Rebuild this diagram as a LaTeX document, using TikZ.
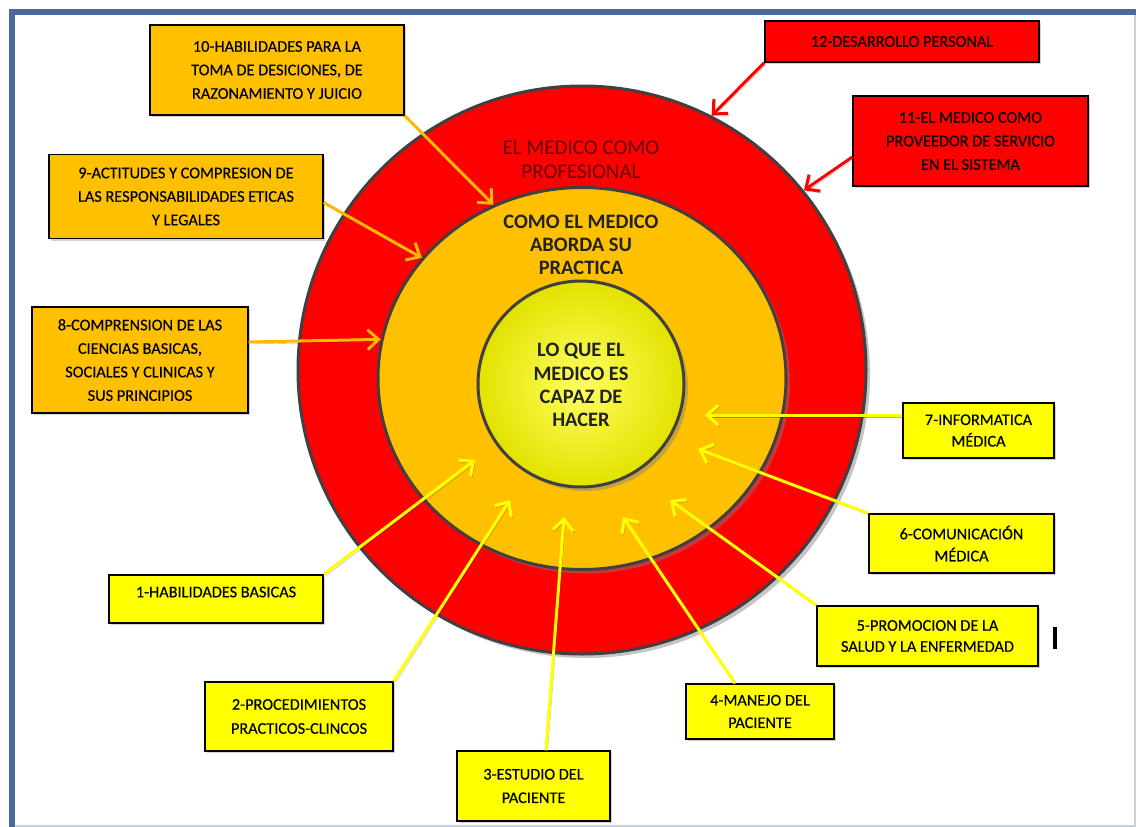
\documentclass[tikz,border=0pt]{standalone}
\usepackage{fontspec}
\setmainfont{Carlito}
\newfontfamily\boxfont[FakeBold=0.35]{Carlito}
\usetikzlibrary{arrows.meta,shadows,shapes.geometric}
\definecolor{cred}{HTML}{FF0000}
\definecolor{corange}{HTML}{FFC000}
\definecolor{cyellow}{HTML}{FFFF00}
\definecolor{cyin}{HTML}{FFFF60}
\definecolor{cyout}{HTML}{E2E200}
\definecolor{cline}{HTML}{404040}
\definecolor{ctxtred}{HTML}{640000}
\definecolor{ctxt}{HTML}{222222}
\definecolor{cframe}{HTML}{4A6A9A}
\definecolor{cframelight}{HTML}{C5CFDD}
\definecolor{carrO}{HTML}{FFB800}
\tikzset{
  lbl/.style={draw=black, line width=1.3pt, font=\boxfont\fontsize{16.3}{23.5}\selectfont,
    align=center, inner sep=0pt, text=black,
    drop shadow={opacity=0.35, shadow xshift=2pt, shadow yshift=-2pt}},
  boxo/.style={lbl, fill=corange},
  boxr/.style={lbl, fill=cred},
  boxy/.style={lbl, fill=cyellow},
  ring/.style={inner sep=0pt, draw=cline, line width=3pt,
    drop shadow={opacity=0.45, shadow xshift=4pt, shadow yshift=-4pt}},
  arrbase/.style={line width=3pt,
    -{Straight Barb[length=11pt,width=20pt,line width=3pt]},
    preaction={draw=black, draw opacity=0.3, transform canvas={shift={(1.5pt,-2pt)}}}},
  arrO/.style={arrbase, draw=carrO},
  arrR/.style={arrbase, draw=cred},
  arrY/.style={arrbase, draw=cyellow},
}
\begin{document}
\begin{tikzpicture}[x=1pt,y=-1pt]
\useasboundingbox (0,0) rectangle (1136,827);
\fill[white] (0,0) rectangle (1136,827);
% frame
\draw[cframelight, line width=2pt] (12,825.5) -- (1134.5,825.5) -- (1134.5,12);
\draw[cframe, line width=6pt] (11.5,827) -- (11.5,11.5) -- (1136,11.5);

% circles
\node[ring, circle, fill=cred, minimum size=568pt] (prof) at (582,370) {};
\node[ring, ellipse, fill=corange, minimum width=408pt, minimum height=382pt] (prac) at (582,378.5) {};
\node[ring, circle, shading=radial, inner color=cyin, outer color=cyout, minimum size=206pt] (core) at (581,384) {};

% circle texts
\node[font=\fontsize{21}{24}\selectfont, text=ctxtred, align=center] (proftxt) at (581,160) {EL MEDICO COMO\\PROFESIONAL};
\node[font=\bfseries\fontsize{20.5}{23.3}\selectfont, text=ctxt, align=center] (practxt) at (581,245) {COMO EL MEDICO\\ABORDA SU\\PRACTICA};
\node[font=\bfseries\fontsize{20.5}{23.3}\selectfont, text=ctxt, align=center] (coretxt) at (581,385) {LO QUE EL\\MEDICO ES\\CAPAZ DE\\HACER};

% boxes
\node[boxo, minimum width=254pt, minimum height=90pt] (b10) at (277,70) {10-HABILIDADES PARA LA\\TOMA DE DESICIONES, DE\\RAZONAMIENTO Y JUICIO};
\node[boxo, minimum width=274pt, minimum height=84pt] (b9) at (186,196.5) {9-ACTITUDES Y COMPRESION DE\\LAS RESPONSABILIDADES ETICAS\\Y LEGALES};
\node[boxo, minimum width=216pt, minimum height=106pt] (b8) at (140,360) {8-COMPRENSION DE LAS\\CIENCIAS BASICAS,\\SOCIALES Y CLINICAS Y\\SUS PRINCIPIOS};
\node[boxr, minimum width=274pt, minimum height=41pt] (b12) at (902,41.5) {12-DESARROLLO PERSONAL};
\node[boxr, minimum width=235pt, minimum height=90pt] (b11) at (970.5,141) {11-EL MEDICO COMO\\PROVEEDOR DE SERVICIO\\EN EL SISTEMA};
\node[boxy, minimum width=151pt, minimum height=55pt, font=\boxfont\fontsize{16.3}{21.5}\selectfont] (b7) at (978.5,430.5) {7-INFORMATICA\\MÉDICA};
\node[boxy, minimum width=185pt, minimum height=59pt, font=\boxfont\fontsize{16.3}{22}\selectfont] (b6) at (961.5,543.5) {6-COMUNICACIÓN\\MÉDICA};
\node[boxy, minimum width=221pt, minimum height=60pt, font=\boxfont\fontsize{16.3}{21}\selectfont] (b5) at (927.5,636) {5-PROMOCION DE LA\\SALUD Y LA ENFERMEDAD};
\node[boxy, minimum width=148pt, minimum height=55pt, font=\boxfont\fontsize{16.3}{22.5}\selectfont] (b4) at (760,711.5) {4-MANEJO DEL\\PACIENTE};
\node[boxy, minimum width=153pt, minimum height=70pt] (b3) at (533.5,786) {3-ESTUDIO DEL\\PACIENTE};
\node[boxy, minimum width=188pt, minimum height=69pt, font=\boxfont\fontsize{16.3}{24}\selectfont] (b2) at (299,716.5) {2-PROCEDIMIENTOS\\PRACTICOS-CLINCOS};
\node[boxy, minimum width=214pt, minimum height=48pt] (b1) at (216,599) {\raisebox{14pt}{1-HABILIDADES BASICAS}};

% arrow tips inside the orange ring
\coordinate (t7) at (705,415);
\coordinate (t6) at (698,449);
\coordinate (t5) at (670,500);
\coordinate (t4) at (623,517);
\coordinate (t3) at (564,517);
\coordinate (t2) at (510,500);
\coordinate (t1) at (475,460);

% connectors
\draw[arrO] (b10.south east) -- (prac.117.8);
\draw[arrO] ([yshift=-6pt]b9.east) -- (prac.143.6);
\draw[arrO] ([yshift=18pt]b8.east) -- (prac.169.7);
\draw[arrR] (b12.south west) -- (prof.63.7);
\draw[arrR] ([yshift=-16pt]b11.west) -- (prof.39.9);
\draw[arrY] ([yshift=15.5pt]b7.west) -- (t7);
\draw[arrY] (b6.north west) -- (t6);
\draw[arrY] (b5.north west) -- (t5);
\draw[arrY] ([xshift=-25pt]b4.north) -- (t4);
\draw[arrY] ([xshift=12.5pt]b3.north) -- (t3);
\draw[arrY] (b2.north east) -- (t2);
\draw[arrY] (b1.north east) -- (t1);

% text cursor mark
\draw[black, line width=3.5pt] (1055,627) -- (1055,649);
\end{tikzpicture}
\end{document}
